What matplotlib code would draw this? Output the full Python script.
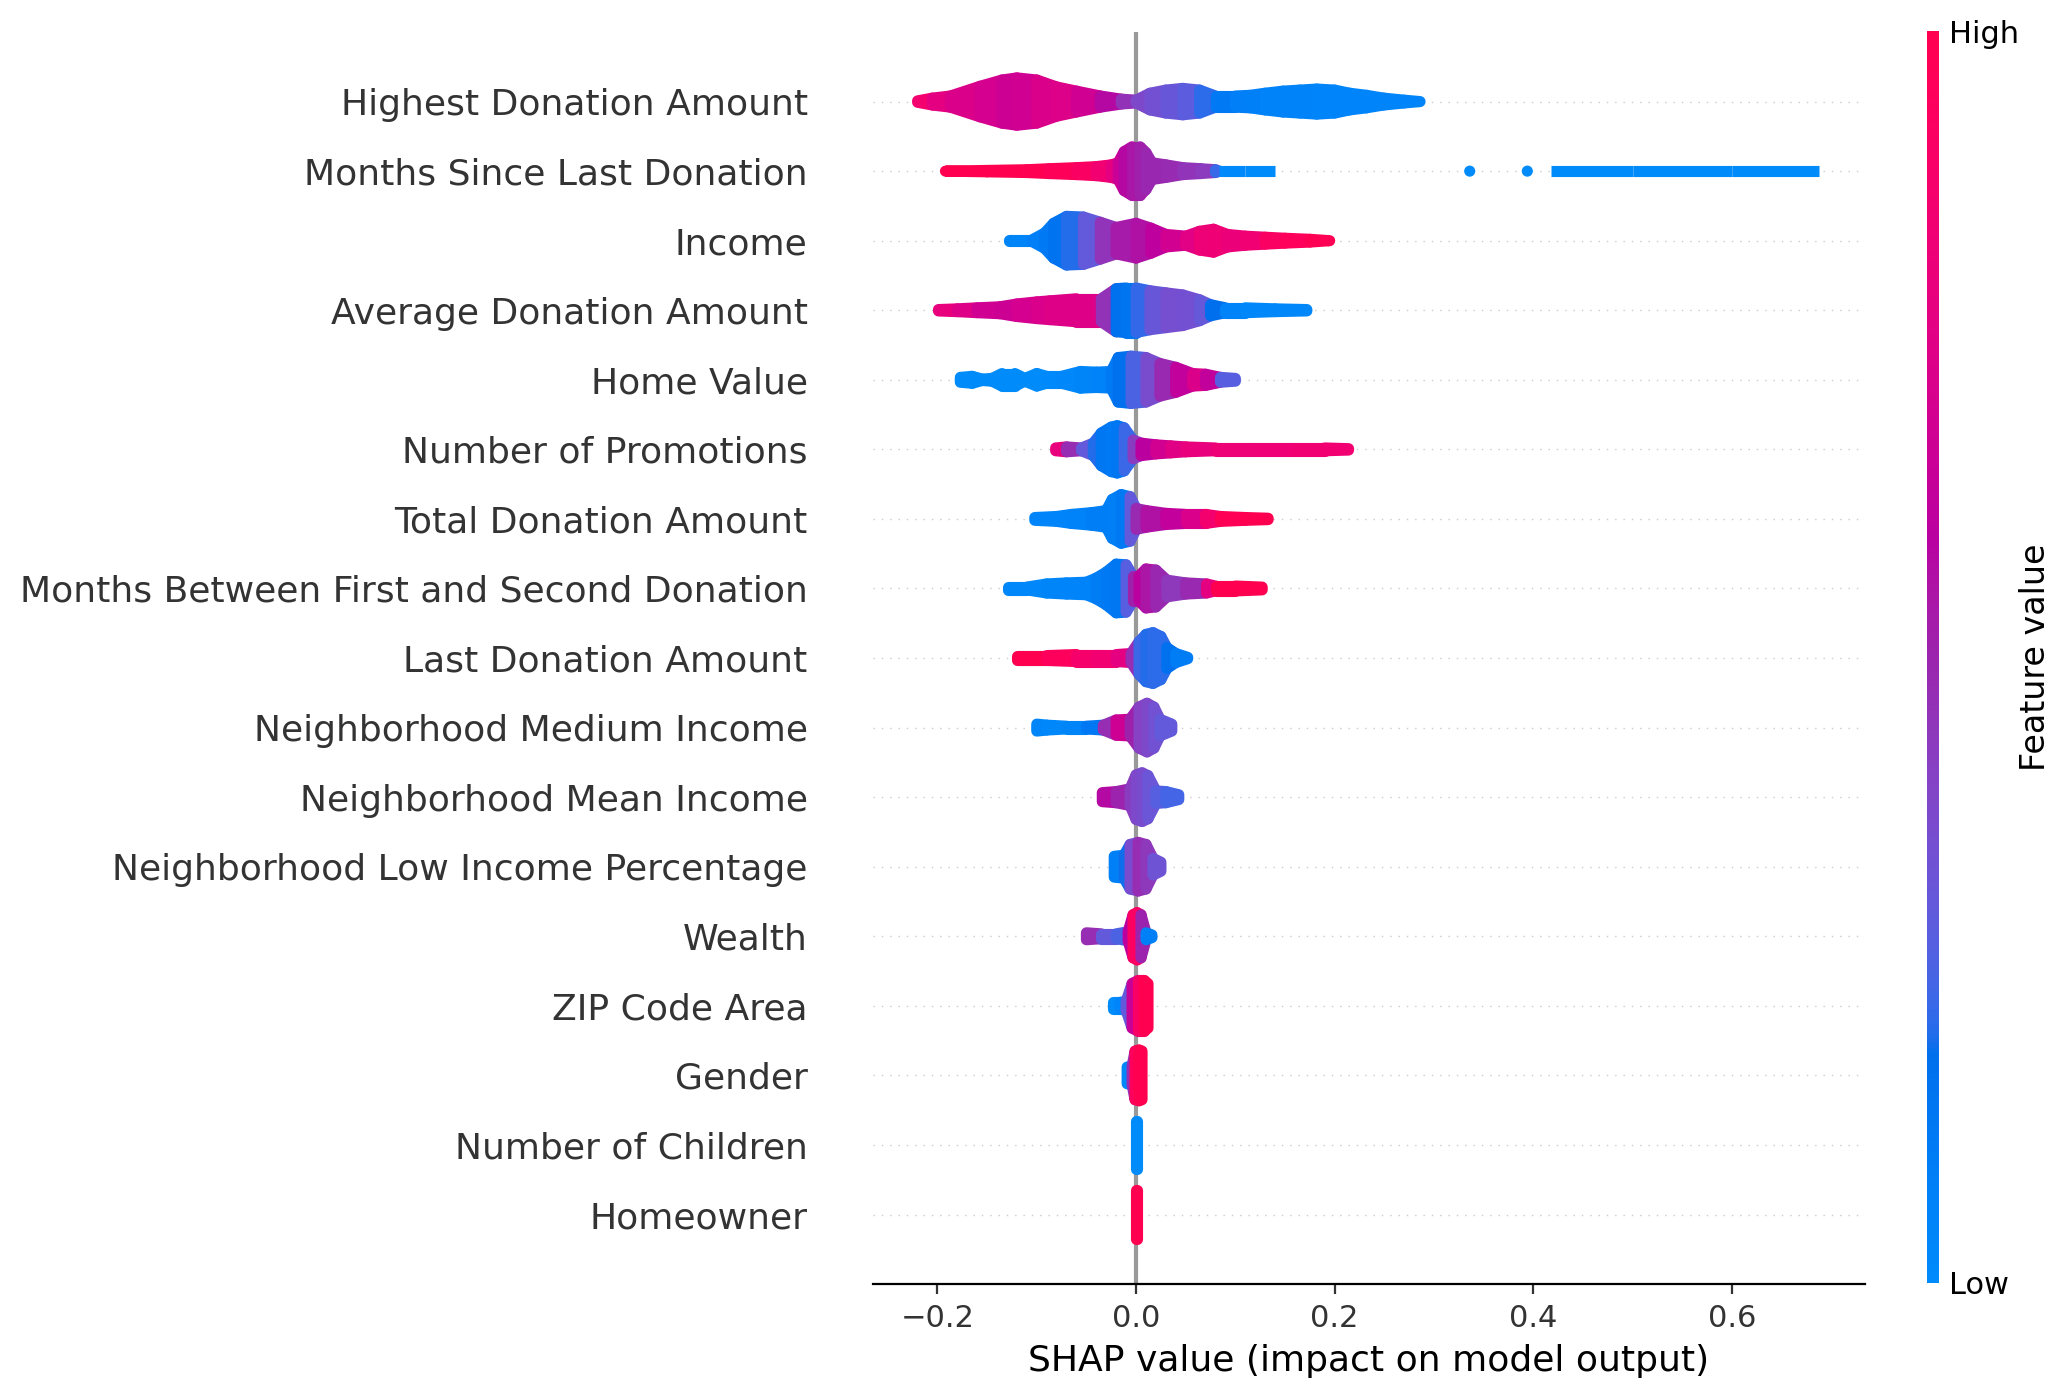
import numpy as np
import matplotlib
matplotlib.use('Agg')
import matplotlib.pyplot as plt
from matplotlib.collections import PolyCollection
from matplotlib.colors import LinearSegmentedColormap, Normalize
from matplotlib.cm import ScalarMappable

# feature names, top to bottom
features = ['Highest Donation Amount', 'Months Since Last Donation', 'Income',
            'Average Donation Amount', 'Home Value', 'Number of Promotions',
            'Total Donation Amount', 'Months Between First and Second Donation',
            'Last Donation Amount', 'Neighborhood Medium Income',
            'Neighborhood Mean Income', 'Neighborhood Low Income Percentage',
            'Wealth', 'ZIP Code Area', 'Gender', 'Number of Children', 'Homeowner']

# swarm outlines:
# x = SHAP value, h = half height of the swarm (fraction of a row), c = feature value (0 low, 1 high)
hda_x = [-0.220, -0.205, -0.187, -0.157, -0.135, -0.120, -0.100, -0.080, -0.060, -0.036, -0.015, 0.000, 0.014, 0.030,
         0.047, 0.064, 0.080, 0.100, 0.115, 0.130, 0.148, 0.165, 0.182, 0.200, 0.215, 0.232, 0.249, 0.270, 0.286]
hda_h = [0.09, 0.13, 0.16, 0.30, 0.39, 0.42, 0.39, 0.29, 0.23, 0.16, 0.115, 0.10, 0.20, 0.245,
         0.27, 0.245, 0.16, 0.16, 0.17, 0.20, 0.23, 0.245, 0.26, 0.245, 0.20, 0.17, 0.13, 0.10, 0.08]
hda_c = [0.92, 0.80, 0.74, 0.72, 0.68, 0.66, 0.70, 0.75, 0.72, 0.64, 0.52, 0.40, 0.36, 0.33,
         0.30, 0.27, 0.15, 0.08, 0.08, 0.07, 0.06, 0.06, 0.05, 0.05, 0.05, 0.05, 0.05, 0.05, 0.05]

msld_x = [-0.192, -0.150, -0.110, -0.087, -0.060, -0.040, -0.025, -0.018, -0.012, -0.004, 0.004, 0.010, 0.016,
          0.030, 0.047, 0.065, 0.080, 0.084, 0.110, 0.140, None, 0.418, 0.500, 0.600, 0.688]
msld_h = [0.08, 0.09, 0.10, 0.115, 0.13, 0.145, 0.17, 0.20, 0.36, 0.43, 0.43, 0.345, 0.20,
          0.17, 0.13, 0.115, 0.10, 0.08, 0.08, 0.08, None, 0.08, 0.08, 0.08, 0.08]
msld_c = [1.0, 1.0, 1.0, 0.98, 0.95, 0.88, 0.82, 0.72, 0.60, 0.56, 0.53, 0.50, 0.48,
          0.50, 0.46, 0.44, 0.42, 0.02, 0.0, 0.0, None, 0.0, 0.0, 0.0, 0.0]
msld_dot_x = [0.336, 0.394]
msld_dot_c = [0.0, 0.0]

inc_x = [-0.128, -0.105, -0.092, -0.083, -0.070, -0.053, -0.036, -0.020, 0.000, 0.015,
         0.030, 0.050, 0.064, 0.078, 0.092, 0.110, 0.130, 0.150, 0.175, 0.195]
inc_h = [0.09, 0.09, 0.19, 0.33, 0.43, 0.42, 0.345, 0.27, 0.33, 0.26,
         0.17, 0.145, 0.215, 0.245, 0.17, 0.145, 0.13, 0.115, 0.10, 0.08]
inc_c = [0.03, 0.06, 0.10, 0.14, 0.18, 0.22, 0.38, 0.52, 0.55, 0.57,
         0.65, 0.72, 0.80, 0.85, 0.82, 0.80, 0.88, 0.95, 0.97, 1.0]

ada_x = [-0.199, -0.180, -0.160, -0.137, -0.120, -0.100, -0.087, -0.060, -0.035, -0.020, -0.010,
         0.000, 0.014, 0.030, 0.047, 0.064, 0.075, 0.090, 0.110, 0.140, 0.172]
ada_h = [0.09, 0.10, 0.115, 0.13, 0.17, 0.20, 0.215, 0.245, 0.245, 0.39, 0.40,
         0.40, 0.36, 0.33, 0.30, 0.23, 0.16, 0.115, 0.115, 0.10, 0.09]
ada_c = [0.80, 0.78, 0.70, 0.66, 0.68, 0.72, 0.72, 0.76, 0.72, 0.20, 0.15,
         0.15, 0.28, 0.35, 0.36, 0.33, 0.28, 0.08, 0.03, 0.02, 0.02]

hv_x = [-0.177, -0.165, -0.155, -0.145, -0.135, -0.122, -0.112, -0.100, -0.090, -0.075, -0.056,
        -0.040, -0.025, -0.018, -0.005, 0.010, 0.024, 0.040, 0.057, 0.070, 0.085, 0.100]
hv_h = [0.115, 0.13, 0.09, 0.10, 0.17, 0.17, 0.10, 0.17, 0.13, 0.13, 0.20,
        0.19, 0.20, 0.40, 0.42, 0.40, 0.315, 0.26, 0.17, 0.16, 0.115, 0.10]
hv_c = [0.0, 0.0, 0.0, 0.0, 0.0, 0.0, 0.0, 0.0, 0.0, 0.02, 0.03,
        0.05, 0.08, 0.15, 0.20, 0.30, 0.42, 0.55, 0.70, 0.75, 0.50, 0.05]

np_x = [-0.081, -0.070, -0.055, -0.043, -0.035, -0.025, -0.019, -0.012, -0.003,
        0.005, 0.020, 0.035, 0.050, 0.080, 0.120, 0.160, 0.190, 0.214]
np_h = [0.10, 0.115, 0.10, 0.17, 0.315, 0.40, 0.42, 0.39, 0.215,
        0.17, 0.145, 0.13, 0.115, 0.10, 0.10, 0.10, 0.10, 0.09]
np_c = [1.0, 0.60, 0.35, 0.25, 0.15, 0.12, 0.12, 0.15, 0.30,
        0.55, 0.65, 0.72, 0.78, 0.82, 0.83, 0.83, 0.85, 0.85]

tda_x = [-0.102, -0.080, -0.065, -0.045, -0.030, -0.024, -0.015, -0.006,
         0.000, 0.010, 0.030, 0.050, 0.070, 0.085, 0.110, 0.133]
tda_h = [0.10, 0.115, 0.145, 0.17, 0.20, 0.36, 0.43, 0.40,
         0.23, 0.20, 0.16, 0.145, 0.145, 0.115, 0.10, 0.09]
tda_c = [0.05, 0.05, 0.05, 0.08, 0.10, 0.08, 0.08, 0.15,
         0.45, 0.52, 0.60, 0.66, 0.78, 0.95, 1.0, 1.0]

mbfs_x = [-0.129, -0.110, -0.090, -0.070, -0.050, -0.040, -0.030, -0.020, -0.010, -0.003,
          0.003, 0.010, 0.020, 0.031, 0.050, 0.071, 0.080, 0.100, 0.127]
mbfs_h = [0.10, 0.10, 0.145, 0.16, 0.17, 0.23, 0.315, 0.43, 0.42, 0.26,
          0.26, 0.36, 0.345, 0.20, 0.16, 0.145, 0.115, 0.115, 0.10]
mbfs_c = [0.02, 0.02, 0.03, 0.05, 0.05, 0.08, 0.12, 0.12, 0.15, 0.40,
          0.62, 0.58, 0.52, 0.46, 0.42, 0.55, 1.0, 1.0, 1.0]

lda_x = [-0.120, -0.090, -0.060, -0.040, -0.020, -0.005, 0.003, 0.010, 0.017, 0.025, 0.031, 0.040, 0.052]
lda_h = [0.115, 0.115, 0.13, 0.13, 0.13, 0.145, 0.315, 0.42, 0.445, 0.39, 0.23, 0.145, 0.09]
lda_c = [1.0, 1.0, 0.90, 0.85, 0.85, 0.70, 0.25, 0.20, 0.20, 0.22, 0.20, 0.15, 0.05]

nmi_x = [-0.100, -0.090, -0.070, -0.050, -0.033, -0.020, -0.006, 0.003, 0.011, 0.018, 0.024, 0.036]
nmi_h = [0.13, 0.115, 0.10, 0.10, 0.115, 0.19, 0.20, 0.375, 0.43, 0.375, 0.20, 0.13]
nmi_c = [0.05, 0.03, 0.03, 0.05, 0.20, 0.75, 0.60, 0.42, 0.40, 0.36, 0.32, 0.28]

nmean_x = [-0.034, -0.020, -0.006, 0.000, 0.006, 0.012, 0.020, 0.030, 0.043]
nmean_h = [0.145, 0.16, 0.20, 0.40, 0.43, 0.39, 0.17, 0.16, 0.115]
nmean_c = [0.60, 0.55, 0.45, 0.40, 0.36, 0.36, 0.28, 0.26, 0.22]

nlip_x = [-0.022, -0.012, -0.006, 0.002, 0.010, 0.017, 0.025]
nlip_h = [0.23, 0.245, 0.40, 0.43, 0.40, 0.20, 0.145]
nlip_c = [0.05, 0.10, 0.28, 0.45, 0.50, 0.38, 0.28]

w_x = [-0.050, -0.035, -0.020, -0.008, -0.003, 0.001, 0.005, 0.010, 0.016]
w_h = [0.13, 0.115, 0.115, 0.145, 0.39, 0.42, 0.39, 0.13, 0.10]
w_c = [0.55, 0.40, 0.20, 0.30, 0.90, 0.95, 0.90, 0.10, 0.05]

zip_x = [-0.023, -0.016, -0.010, -0.004, 0.002, 0.008, 0.012]
zip_h = [0.13, 0.13, 0.145, 0.40, 0.445, 0.445, 0.40]
zip_c = [0.0, 0.0, 0.10, 0.50, 0.80, 1.0, 1.0]

gen_x = [-0.009, -0.004, -0.001, 0.003, 0.006]
gen_h = [0.20, 0.215, 0.43, 0.445, 0.43]
gen_c = [0.0, 0.05, 0.90, 1.0, 1.0]

noc_x = [-0.0005, 0.0005]
noc_h = [0.43, 0.43]
noc_c = [0.0, 0.0]

ho_x = [-0.0005, 0.0005]
ho_h = [0.43, 0.43]
ho_c = [1.0, 1.0]

swarms = [(hda_x, hda_h, hda_c), (msld_x, msld_h, msld_c), (inc_x, inc_h, inc_c),
          (ada_x, ada_h, ada_c), (hv_x, hv_h, hv_c), (np_x, np_h, np_c),
          (tda_x, tda_h, tda_c), (mbfs_x, mbfs_h, mbfs_c), (lda_x, lda_h, lda_c),
          (nmi_x, nmi_h, nmi_c), (nmean_x, nmean_h, nmean_c), (nlip_x, nlip_h, nlip_c),
          (w_x, w_h, w_c), (zip_x, zip_h, zip_c), (gen_x, gen_h, gen_c),
          (noc_x, noc_h, noc_c), (ho_x, ho_h, ho_c)]


def lch2rgb(l, c, h):
    # CIE LCh -> sRGB, same path shap uses for its red_blue map
    a, b = c * np.cos(h), c * np.sin(h)
    fy = (l + 16) / 116
    fx, fz = fy + a / 500, fy - b / 200

    def finv(t):
        return t ** 3 if t > 6 / 29 else 3 * (6 / 29) ** 2 * (t - 4 / 29)
    X, Y, Z = 0.95047 * finv(fx), finv(fy), 1.08883 * finv(fz)
    lin = [3.2406 * X - 1.5372 * Y - 0.4986 * Z,
           -0.9689 * X + 1.8758 * Y + 0.0415 * Z,
           0.0557 * X - 0.2040 * Y + 1.0570 * Z]
    out = []
    for v in lin:
        v = 1.055 * v ** (1 / 2.4) - 0.055 if v > 0.0031308 else 12.92 * v
        out.append(min(max(v, 0.0), 1.0))
    return out


nsteps = 100
blue_lch = [54., 70., 4.6588]
red_lch = [54., 90., 0.35470565 + 2 * np.pi]
l_vals = list(np.linspace(blue_lch[0], 40., nsteps // 2)) + list(np.linspace(40., red_lch[0], nsteps // 2))
c_vals = np.linspace(blue_lch[1], red_lch[1], nsteps)
h_vals = np.linspace(blue_lch[2], red_lch[2], nsteps)
red_blue = LinearSegmentedColormap.from_list(
    'red_blue', [lch2rgb(l, c, h) for l, c, h in zip(l_vals, c_vals, h_vals)])
norm = Normalize(0, 1)

DOT_R = 0.08  # dot radius in row units (4pt dots)
n = len(features)

fig = plt.figure(figsize=(10.355, 6.99), dpi=200)
ax = fig.add_axes([0.4215, 0.0815, 0.479, 0.8956])

for i, (xs, hs, cs) in enumerate(swarms):
    row = n - 1 - i
    ax.axhline(row, color='#cccccc', lw=0.5, dashes=(1, 5), zorder=-1)
    verts, cols = [], []
    prev = None
    for x, h, c in zip(xs, hs, cs):
        if x is None:
            prev = None
            continue
        cur = (x, max(h - DOT_R, 0.0), c)
        if prev is not None:
            (x0, h0, c0), (x1, h1, c1) = prev, cur
            verts.append([(x0, row - h0), (x1, row - h1), (x1, row + h1), (x0, row + h0)])
            cols.append((c0 + c1) / 2)
        prev = cur
    pc = PolyCollection(verts, array=np.array(cols), cmap=red_blue, norm=norm,
                        edgecolors='face', linewidths=4, joinstyle='round', zorder=3)
    ax.add_collection(pc)

ax.scatter(msld_dot_x, [n - 2] * len(msld_dot_x), c=msld_dot_c, cmap=red_blue, norm=norm,
           s=16, linewidths=0, zorder=3)

ax.axvline(0, color='#999999', zorder=-1)

ax.set_xlim(-0.265, 0.734)
ax.set_ylim(-1, n)
ax.set_yticks(range(n))
ax.set_yticklabels(features[::-1], fontsize=13)
ax.yaxis.set_ticks_position('none')
ax.xaxis.set_ticks_position('bottom')
ax.tick_params('y', length=20, width=0.5, which='major')
ax.tick_params('x', labelsize=11)
ax.tick_params(color='#333333', labelcolor='#333333')
for side in ['right', 'top', 'left']:
    ax.spines[side].set_visible(False)
ax.set_xlabel('SHAP value (impact on model output)', fontsize=13)

cax = fig.add_axes([0.9305, 0.0823, 0.0058, 0.8955])
cb = fig.colorbar(ScalarMappable(norm=norm, cmap=red_blue), cax=cax, ticks=[0, 1])
cb.set_ticklabels(['Low', 'High'])
cb.set_label('Feature value', size=12, labelpad=0)
cb.ax.tick_params(labelsize=11, length=0)
cb.outline.set_visible(False)

plt.savefig('out.png', dpi=200)
plt.close()
